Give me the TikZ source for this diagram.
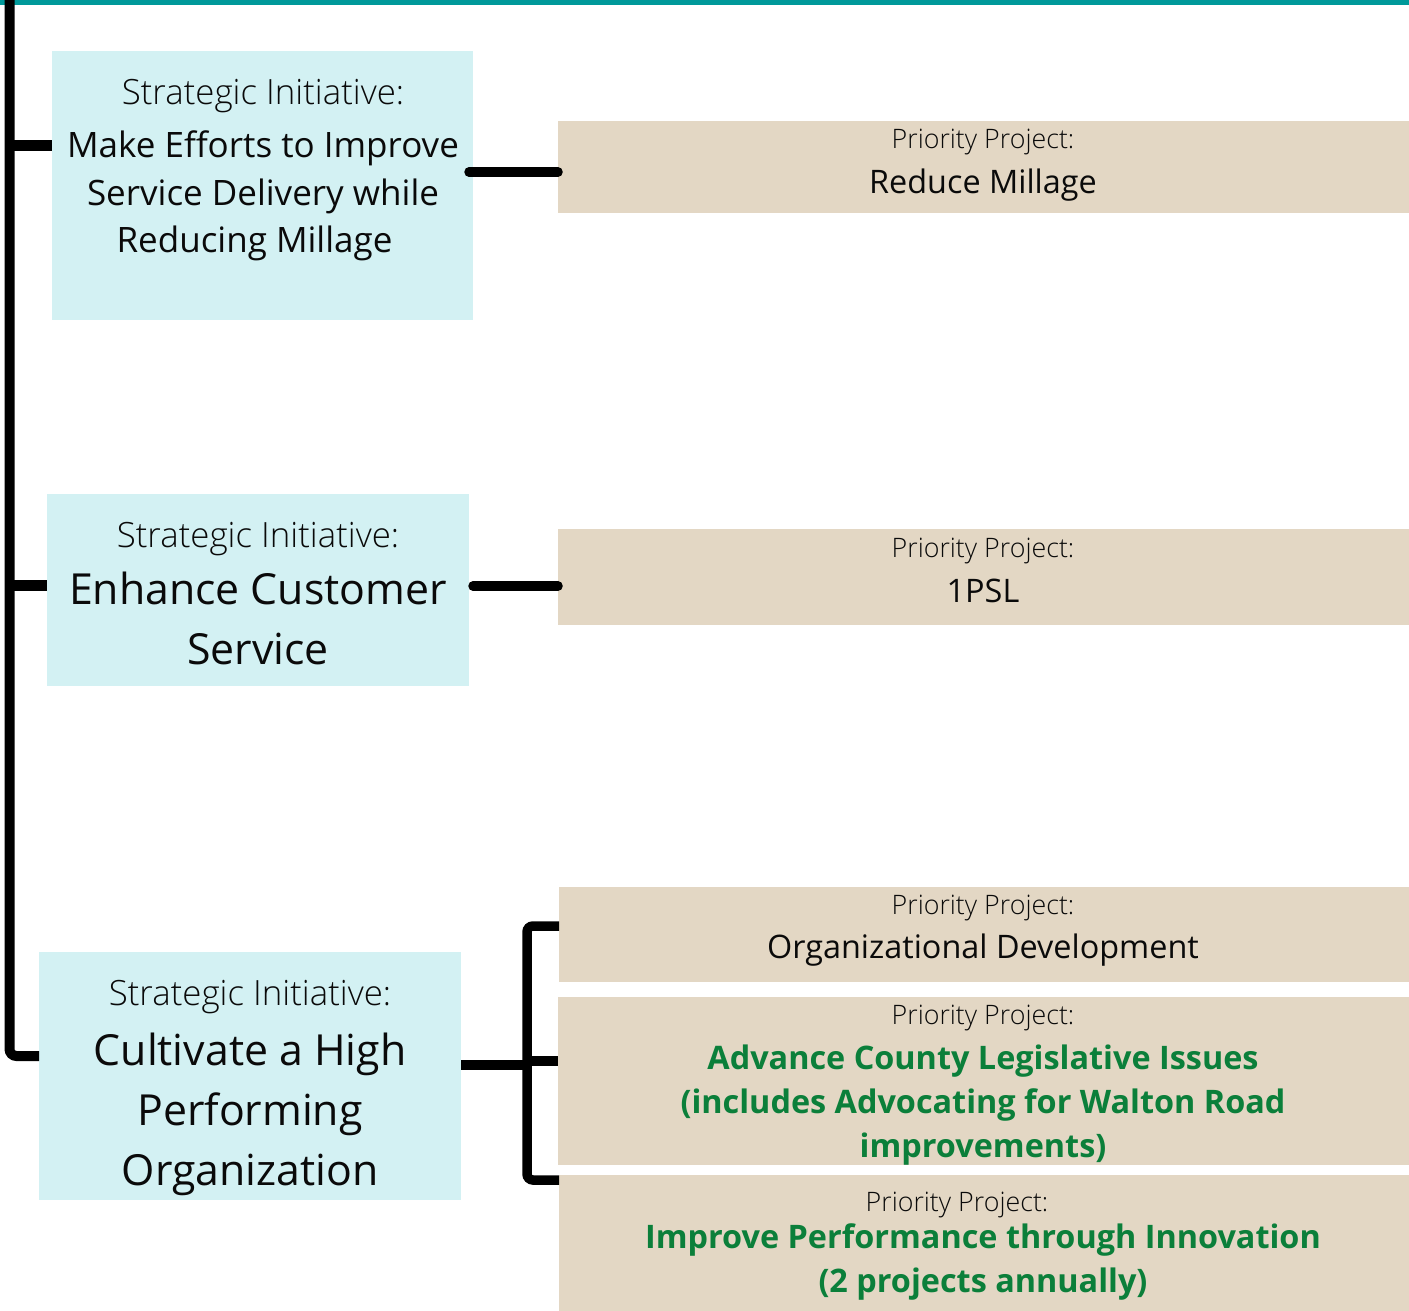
\documentclass[tikz,border=0pt]{standalone}
\usepackage{fontspec}
\setmainfont{Open Sans}
\newfontfamily\lightf{Open Sans Light}
\definecolor{teal1}{HTML}{00999A}
\definecolor{sibox}{HTML}{D3F1F3}
\definecolor{ppbox}{HTML}{E3D7C4}
\definecolor{grn}{HTML}{0B7F3A}
\definecolor{ink}{HTML}{0A0A0A}
\tikzset{
  sib/.style={fill=sibox, draw=none, inner sep=0pt, anchor=north west},
  ppb/.style={fill=ppbox, draw=none, inner sep=0pt, anchor=north west},
  conn/.style={line width=9.5pt, black, line cap=round},
  lbl/.style={font=\lightf\fontsize{26.8}{32}\selectfont, text=ink, inner sep=0pt, anchor=base},
  silbl/.style={font=\lightf\fontsize{34.8}{40}\selectfont, text=ink, inner sep=0pt, anchor=base},
  mtxt/.style={font=\fontsize{35}{47.5}\selectfont, text=ink, inner sep=0pt, align=center, anchor=base},
  ptxt/.style={font=\fontsize{32.4}{44}\selectfont, text=ink, inner sep=0pt, align=center, anchor=base},
  btxt/.style={font=\fontsize{42.8}{60}\selectfont, text=ink, inner sep=0pt, align=center, anchor=base},
  gtxt/.style={font=\bfseries\fontsize{32.4}{44}\selectfont, text=grn, inner sep=0pt, align=center, anchor=base},
}
\begin{document}
\begin{tikzpicture}[x=1pt,y=-1pt]
\useasboundingbox (0,0) rectangle (1409,1310);
\fill[white] (0,0) rectangle (1409,1310);
% boxes
\node[sib, minimum width=421pt, minimum height=269pt] (b1) at (52,51) {};
\node[sib, minimum width=422pt, minimum height=192pt] (b2) at (47,494) {};
\node[sib, minimum width=422pt, minimum height=248pt] (b3) at (39,952) {};
\node[ppb, minimum width=851pt, minimum height=92pt] (p1) at (558,121) {};
\node[ppb, minimum width=851pt, minimum height=96pt] (p2) at (558,529) {};
\node[ppb, minimum width=850pt, minimum height=95pt] (p3) at (559,887) {};
\node[ppb, minimum width=851pt, minimum height=168pt] (p4) at (558,997) {};
\node[ppb, minimum width=850pt, minimum height=140pt] (p5) at (559,1175) {};
% top line
\coordinate (tl) at (0,2);
\coordinate (tr) at (1409,2);
\draw[teal1, line width=5pt] (tl) -- (tr);
% main trunk
\coordinate (trunk) at (9.5,0);
\coordinate (j1) at (9.5,145);
\coordinate (j2) at (9.5,585);
\draw[line width=10pt, rounded corners=7pt] (trunk) -- (9.5,1056) -- (b3.west |- 0,1056);
\draw[line width=11pt] (j1) -- (b1.west |- j1);
\draw[line width=11pt] (j2) -- (b2.west |- j2);
% connectors
\coordinate (c1) at (469,172);
\draw[conn] (c1) -- (p1.west |- c1);
\coordinate (c2) at (473,586);
\draw[conn] (c2) -- (p2.west |- c2);
\coordinate (c3) at (461,1065);
\coordinate (br) at (527,1061);
\draw[line width=9.5pt] (c3) -- (c3 -| br);
\draw[line width=9.5pt, rounded corners=6pt, line cap=butt] (p3.west |- 0,926) -- (527,926) -- (527,1180) -- (p5.west |- 0,1180);
\draw[line width=9.5pt] (br) -- (p4.west |- br);
% texts box 1
\node[silbl] (t1a) at (263,104.5) {Strategic Initiative:};
\node[mtxt] (t1b) at (263,252.5) {Make Efforts to Improve\\Service Delivery while\\Reducing Millage\hspace*{17pt}};
% box 2
\node[silbl] (t2a) at (258,547.5) {Strategic Initiative:};
\node[btxt] (t2b) at (258,664) {Enhance Customer\\Service};
% box 3
\node[silbl] (t3a) at (250,1005.5) {Strategic Initiative:};
\node[btxt] (t3b) at (250,1185) {Cultivate a High\\Performing\\Organization};
% priority projects
\node[lbl] (l1) at (983,148.6) {Priority Project:};
\node[ptxt] (m1) at (983,193.6) {Reduce Millage};
\node[lbl] (l2) at (983,557.6) {Priority Project:};
\node[ptxt] (m2) at (983,602.6) {1PSL};
\node[lbl] (l3) at (983,914.6) {Priority Project:};
\node[ptxt] (m3) at (983,958.6) {Organizational Development};
\node[lbl] (l4) at (983,1024.6) {Priority Project:};
\node[gtxt] (g4) at (983,1157) {Advance County Legislative Issues\\(includes Advocating for Walton Road\\improvements)};
\node[lbl] (l5) at (957,1211.6) {Priority Project:};
\node[gtxt] (g5) at (983,1292) {Improve Performance through Innovation\\(2 projects annually)};
\end{tikzpicture}
\end{document}
